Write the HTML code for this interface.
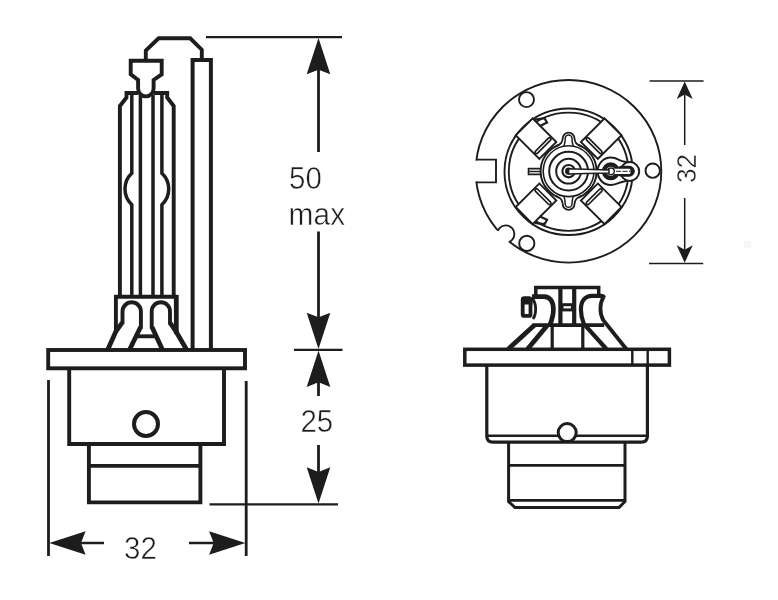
<!DOCTYPE html>
<html><head><meta charset="utf-8"><title>D2S dimensions</title>
<style>
html,body{margin:0;padding:0;background:#fff;}
body{width:778px;height:600px;overflow:hidden;position:relative;font-family:"Liberation Sans",sans-serif;}
svg{position:absolute;left:0;top:0;display:block;}
text{font-family:"Liberation Sans",sans-serif;fill:#1d1d1b;}
</style></head><body>
<svg width="778" height="600" viewBox="0 0 778 600">
<defs><filter id="gs" x="-10%" y="-10%" width="120%" height="120%" color-interpolation-filters="sRGB"><feColorMatrix type="saturate" values="0"/></filter></defs>
<rect x="0" y="0" width="778" height="600" fill="#ffffff"/>

<g fill="none" stroke="#1d1d1b" stroke-width="3.9" stroke-linejoin="miter" stroke-linecap="butt">
<path d="M145.8,59 V50.5 L158.6,38.3 H190.2 L201.8,49.7 V59"/>
<path d="M130.7,60.8 H161.7 V74.4 L153.6,80 V88.6 A7.75,7.75 0 0 1 138.1,88.6 V80 L130.7,74.4 Z" fill="#fff"/>
<path d="M138.1,93 H126.5 V97.5 L119.9,106 V297"/>
<path d="M153.6,93 H167.2 V97.5 L173.7,106 V297"/>
<path d="M192.6,350 V60 H210.9 V350" stroke-width="4"/>
<path d="M115.9,332 V296.8 H176.3" />
<path d="M176.3,294.85 V334" stroke-width="4.8"/>
<path d="M122.5,324 V311.5 A9.2,9.2 0 0 1 140.9,311.5 V328.5"/>
<path d="M170,324.5 V311.5 A9.15,9.2 0 0 0 151.7,311.5 V328.5"/>
<g stroke-width="4.7" stroke-linejoin="round">
<path d="M116.3,330.5 L107.6,350 M122.3,322.5 L116.3,331"/>
<path d="M140.6,327 L129.4,350"/>
<path d="M152,327 L162.6,350"/>
<path d="M170.2,323 L176,331.5 L186.8,350"/>
</g>
<path d="M137,336.3 H157"/>
<rect x="48.2" y="350" width="196.8" height="18.3" fill="#fff"/>
<path d="M69.2,368.3 V444 H224 V368.3"/>
<path d="M88.9,444 V502.4 H200.4 V444 M88.9,465.9 H200.4"/>
<circle cx="146" cy="424" r="12" stroke-width="4"/>
</g>
<g fill="none" stroke="#1d1d1b" stroke-width="3.5" stroke-linejoin="miter">
<path d="M140.4,95 V297 M153,95 V297"/>
<path d="M131.8,93 V173.3 A21.5,21.5 0 0 0 131.8,204.7 V297"/>
<path d="M161.9,93 V173.3 A21.5,21.5 0 0 1 161.9,204.7 V297"/>
</g>
<g fill="none" stroke="#1d1d1b" stroke-width="2.3">
<path d="M206,37.2 H342"/>
<path d="M294,349.8 H342.5"/>
<path d="M209.5,504.4 H338"/>
<path d="M48.5,380 V556 M246.2,381 V556" stroke-width="2.8"/>
</g>
<g fill="none" stroke="#1d1d1b" stroke-width="2.8">
<path d="M318.5,68 V152 M318.5,231.5 V318 M318.5,382 V396 M318.5,445 V472"/>
<path d="M80,543 H104 M189,543 H215" stroke-width="2.5"/>
</g>
<polygon points="318.5,38.0 306.7,74.3 318.5,69.7 330.3,74.3" fill="#1d1d1b"/>
<polygon points="318.5,349.0 330.3,312.7 318.5,317.3 306.7,312.7" fill="#1d1d1b"/>
<polygon points="318.5,350.6 306.7,386.9 318.5,382.3 330.3,386.9" fill="#1d1d1b"/>
<polygon points="318.5,503.6 330.3,467.3 318.5,471.9 306.7,467.3" fill="#1d1d1b"/>
<polygon points="49.3,543.0 85.6,554.8 81.0,543.0 85.6,531.2" fill="#1d1d1b"/>
<polygon points="245.4,543.0 209.1,531.2 213.7,543.0 209.1,554.8" fill="#1d1d1b"/>
<g font-size="31" stroke="#fff" stroke-width="0.5" filter="url(#gs)">
<text transform="translate(289.1,188.5) scale(0.95,1)">50</text>
<text transform="translate(288.6,225.0) scale(0.965,1)">max</text>
<text transform="translate(300.4,431.5) scale(0.95,1)">25</text>
<text transform="translate(124.1,559.0) scale(0.95,1)">32</text>
</g>
<g fill="none" stroke="#1d1d1b" stroke-width="1.9">
<ellipse cx="568.5" cy="171.3" rx="92.8" ry="91.3" fill="#fff" stroke-width="1.9"/>
<rect x="470" y="160.6" width="25" height="20.8" fill="#fff" stroke="none"/>
<path d="M476.6,159.6 H496 V182.4 H476.6"/>
<clipPath id="oc"><ellipse cx="568.5" cy="171.3" rx="92.8" ry="91.3"/></clipPath>
<circle cx="505.2" cy="234.6" r="7.8" fill="#fff" stroke="none"/>
<path d="M491,228 L499,248 L505,243 L500,232 Z" fill="#fff" stroke="none"/>
<circle cx="505.8" cy="234" r="8.6" fill="none" clip-path="url(#oc)"/>
<circle cx="526.5" cy="99.6" r="7.5" fill="#fff"/>
<circle cx="652.7" cy="170.7" r="7.2" fill="#fff"/>
<circle cx="526.8" cy="243.4" r="7.6" fill="#fff"/>
<ellipse cx="568.6" cy="171.75" rx="64.1" ry="63.3" stroke-width="1.9"/>
<ellipse cx="568.6" cy="171.75" rx="59.8" ry="59.1" stroke-width="1.9"/>
</g>
<g transform="translate(568.6,171.2) rotate(45)" fill="#fff" stroke="#1d1d1b" stroke-width="2">
<rect x="29.4" y="-12" width="33.4" height="24" stroke-width="1.9"/>
<rect x="34.7" y="-10.6" width="2.9" height="21.2" rx="1.45" stroke-width="1.7"/>
</g>
<g transform="translate(568.6,171.2) rotate(135)" fill="#fff" stroke="#1d1d1b" stroke-width="2">
<rect x="29.4" y="-12" width="33.4" height="24" stroke-width="1.9"/>
<rect x="34.7" y="-10.6" width="2.9" height="21.2" rx="1.45" stroke-width="1.7"/>
</g>
<g transform="translate(568.6,171.2) rotate(225)" fill="#fff" stroke="#1d1d1b" stroke-width="2">
<rect x="29.4" y="-12" width="33.4" height="24" stroke-width="1.9"/>
<rect x="34.7" y="-10.6" width="2.9" height="21.2" rx="1.45" stroke-width="1.7"/>
</g>
<g transform="translate(568.6,171.2) rotate(315)" fill="#fff" stroke="#1d1d1b" stroke-width="2">
<rect x="29.4" y="-12" width="33.4" height="24" stroke-width="1.9"/>
<rect x="34.7" y="-10.6" width="2.9" height="21.2" rx="1.45" stroke-width="1.7"/>
</g>
<g fill="none" stroke="#1d1d1b" stroke-width="2">
<path d="M535,119.6 L544.5,118.2 L547,122.6 L539.5,126.2" stroke-width="2.2"/>
<path d="M535,222.8 L544.5,224.2 L547,219.8 L539.5,216.2" stroke-width="2.2"/>
</g>
<g fill="#fff" stroke="#1d1d1b" stroke-width="2">
<path d="M541,168.6 H528.5 V174.4 H541 M528.5,171.5 H541" stroke-width="1.6"/>
<circle cx="568.6" cy="171.2" r="28"/>
<g transform="translate(568.6,171.2) scale(1,1)">
<path d="M-12.5,-24.8 C-7.5,-27.2 -6.4,-28.5 -5.9,-32.7 A5.75,5.75 0 0 1 5.9,-32.7 C6.4,-28.5 7.5,-27.2 12.5,-24.8" stroke-width="1.8"/>
<path d="M-5.2,-24.6 C-3.9,-26.5 -3.5,-29 -3.4,-32.7 A3.4,3.4 0 0 1 3.4,-32.7 C3.5,-29 3.9,-26.5 5.2,-24.6" stroke-width="1.5" fill="none"/>
</g>
<g transform="translate(568.6,171.2) scale(1,-1)">
<path d="M-12.5,-24.8 C-7.5,-27.2 -6.4,-28.5 -5.9,-32.7 A5.75,5.75 0 0 1 5.9,-32.7 C6.4,-28.5 7.5,-27.2 12.5,-24.8" stroke-width="1.8"/>
<path d="M-5.2,-24.6 C-3.9,-26.5 -3.5,-29 -3.4,-32.7 A3.4,3.4 0 0 1 3.4,-32.7 C3.5,-29 3.9,-26.5 5.2,-24.6" stroke-width="1.5" fill="none"/>
</g>
<circle cx="568.6" cy="171.2" r="25.4" stroke-width="1.6" fill="none"/>
<circle cx="568.6" cy="171.2" r="19.4"/>
<circle cx="568.6" cy="171.2" r="12.4"/>
<circle cx="568.6" cy="171.2" r="6.2" stroke-width="2.2"/>
<circle cx="568.6" cy="171.2" r="2.6" fill="#1d1d1b"/>
</g>
<g stroke="#1d1d1b" stroke-width="2">
<path d="M610.8,157.6 C617.5,157.6 619.5,161.2 624,161.6 L636,165 L636,178 L624,181.4 C619.5,181.8 617.5,185 610.8,185 C603.4,185 597.6,178.8 597.6,171.3 C597.6,163.8 603.4,157.6 610.8,157.6 Z" fill="#fff"/>
<circle cx="629.8" cy="171.5" r="9.4" fill="#fff"/>
<rect x="616" y="165.8" width="18.8" height="10.9" rx="5.4" fill="#1d1d1b" stroke="none"/>
<circle cx="610.8" cy="171.3" r="6.8" fill="#fff" stroke-width="4.5"/>
<rect x="613" y="168.7" width="17.4" height="5.2" rx="1.2" fill="#fff" stroke="none"/>
<path d="M616,171.3 H630" stroke-width="1" stroke-dasharray="5 1.5"/>
<circle cx="611" cy="171.3" r="3.3" fill="#fff" stroke-width="1.4"/>
<path d="M568.6,168.7 L609,169.9 V172.9 L586,173.5 L568.6,174 Z" fill="#fff" stroke-width="1.5"/>
</g>
<g fill="none" stroke="#1d1d1b" stroke-width="1.5">
<path d="M649.6,81 H703.6 M649,263.4 H703.2"/>
<path d="M684.7,94 V145 M684.7,198 V250"/>
</g>
<polygon points="684.7,81.6 676.7,99.1 684.7,94.6 692.7,99.1" fill="#1d1d1b"/>
<polygon points="684.7,262.8 692.7,245.3 684.7,249.8 676.7,245.3" fill="#1d1d1b"/>
<g filter="url(#gs)" font-size="27.6" stroke="#fff" stroke-width="0.45"><text transform="translate(696.2,183) rotate(-90) scale(0.95,1)">32</text></g>
<g fill="none" stroke="#1d1d1b" stroke-width="3" stroke-linejoin="miter">
<path d="M535.8,297 V287.5 H598.7 V296" stroke-width="3.5"/>
<path d="M560.4,287.5 V325 M574.2,287.5 V325" stroke-width="4.2"/>
<rect x="562" y="304.7" width="10.4" height="5.2" fill="#fff" stroke-width="3"/>
<path d="M532.6,325.1 H604.2" stroke-width="3.7"/>
<rect x="522.7" y="298.2" width="7.8" height="17.7" rx="1.5" stroke-width="3.8"/>
<path d="M521,298 H532.4 V304.5 H521 Z" fill="#1d1d1b" stroke="none"/>
<path d="M532,296.6 H544 C550.5,296.6 553.4,302 553.4,309.5 C553.4,316 551.5,321 549.8,325.1" stroke-width="4.7"/>
<path d="M532.6,298.6 C536.6,304 536.6,314 533,319" stroke-width="2.8"/>
<path d="M603.8,297.6 Q603.6,295.8 601,295.8 H592 C584.5,295.8 580.9,302 580.9,309.5 C580.9,316 582.5,320.5 583.8,323.8 L606.4,349" stroke-width="4.2"/>
<path d="M603.7,296.8 C599.4,303.5 599.4,313.5 603.3,320.3 L626.3,349" stroke-width="3.8"/>
<path d="M534.6,325 L508.3,349" stroke-width="4.8"/>
<path d="M547.6,325 L527.6,349" stroke-width="4.8"/>
<path d="M552.2,325 V349 M582.8,325 V349" stroke-width="3.2"/>
<rect x="464.8" y="349.3" width="204.6" height="15.8" fill="#fff" stroke-width="3.5"/>
<path d="M632.3,349.5 V365.2 M647.7,349.5 V365.2" stroke-width="2.4"/>
<path d="M486.8,365.2 V436 Q486.8,442.2 493,442.2 H641.2 Q647.4,442.2 647.4,436 V365.2" stroke-width="3.2"/>
<path d="M486.8,435.7 H647.4" stroke-width="2.4"/>
<circle cx="567.2" cy="432.6" r="9" fill="#fff" stroke-width="3"/>
<path d="M508.6,442.2 V501.5 L515,507.6 H619 L625,501.5 V442.2" stroke-width="3"/>
<path d="M508.6,465.4 H625 M508.6,500.4 H625" stroke-width="2.7"/>
</g>
<rect x="744" y="241" width="7" height="7" fill="#f6f6f6"/>
</svg>
</body></html>
